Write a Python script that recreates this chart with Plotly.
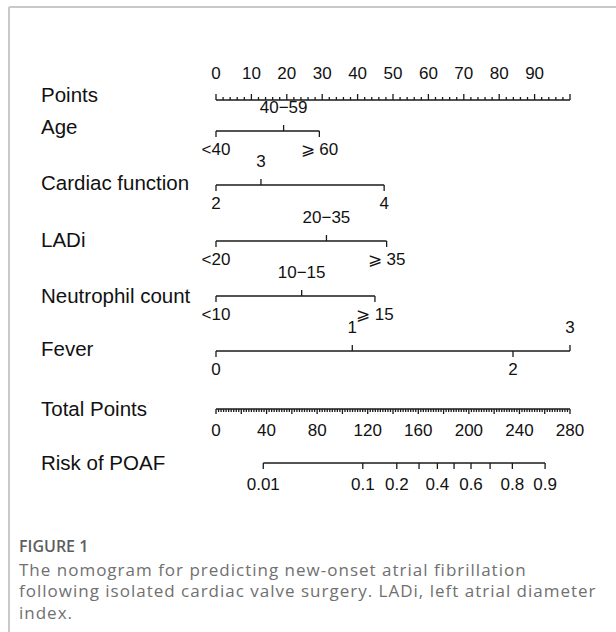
import json
import plotly.graph_objects as go

W, H = 616, 632

# ---------------- data ----------------
points_ticks_major = [0, 10, 20, 30, 40, 50, 60, 70, 80, 90, 100]
points_labels = ["0", "10", "20", "30", "40", "50", "60", "70", "80", "90", ""]

age_levels = ["<40", "40−59", "⩾ 60"]
age_points = [0, 19.1, 29.2]
age_side = ["below", "above", "below"]

cardiac_levels = ["2", "3", "4"]
cardiac_points = [0, 12.7, 47.5]
cardiac_side = ["below", "above", "below"]

ladi_levels = ["<20", "20−35", "⩾ 35"]
ladi_points = [0, 31.2, 48.2]
ladi_side = ["below", "above", "below"]

neut_levels = ["<10", "10−15", "⩾ 15"]
neut_points = [0, 24.2, 44.9]
neut_side = ["below", "above", "below"]

fever_levels = ["0", "1", "2", "3"]
fever_points = [0, 38.5, 83.9, 100]
fever_side = ["below", "above", "below", "above"]

total_ticks_labeled = [0, 40, 80, 120, 160, 200, 240, 280]

risk_values = [0.01, 0.1, 0.2, 0.3, 0.4, 0.5, 0.6, 0.7, 0.8, 0.9]
risk_total_points = [37.4, 116.1, 143.0, 160.6, 175.1, 188.3, 201.7, 216.8, 234.4, 260.3]
risk_labels = ["0.01", "0.1", "0.2", "", "0.4", "", "0.6", "", "0.8", "0.9"]

variables = [
    ("Age", age_levels, age_points, age_side),
    ("Cardiac function", cardiac_levels, cardiac_points, cardiac_side),
    ("LADi", ladi_levels, ladi_points, ladi_side),
    ("Neutrophil count", neut_levels, neut_points, neut_side),
    ("Fever", fever_levels, fever_points, fever_side),
]

caption_lines = ["The nomogram for predicting new-onset atrial fibrillation",
                 "following isolated cardiac valve surgery. LADi, left atrial diameter",
                 "index."]

# ---------------- layout constants ----------------
X0_PX, X100_PX = 216, 570          # pixel positions of 0 and 100 points
PX_PER_PT = (X100_PX - X0_PX) / 100.0
TOTAL_MAX = 280
ROW_Y = {"Points": 100, "Age": 131, "Cardiac function": 185, "LADi": 241,
         "Neutrophil count": 296, "Fever": 351, "Total Points": 409,
         "Risk of POAF": 463}
NAME_Y = {"Points": 94.5, "Age": 126.5, "Cardiac function": 182, "LADi": 239,
          "Neutrophil count": 295, "Fever": 349, "Total Points": 408,
          "Risk of POAF": 462}
LINE_COLOR = "#1a1a1a"
TXT_COLOR = "#111111"
FONT = "Liberation Sans, Arial, sans-serif"
NAME_SIZE = 20.5
TICK_SIZE = 17

fig = go.Figure()

def seg_trace(xs, ys, xaxis="x"):
    fig.add_trace(go.Scatter(x=xs, y=ys, mode="lines", xaxis=xaxis,
                             line=dict(color=LINE_COLOR, width=1.3),
                             hoverinfo="skip", showlegend=False))

def text_trace(xs, ys, texts, xaxis="x", size=TICK_SIZE):
    fig.add_trace(go.Scatter(x=xs, y=ys, mode="text", text=texts, xaxis=xaxis,
                             textposition="middle center",
                             textfont=dict(family=FONT, size=size, color=TXT_COLOR),
                             hoverinfo="skip", showlegend=False))

# Points axis (line at bottom, ticks upward)
yP = ROW_Y["Points"]
xs, ys = [0, 100, None], [yP, yP, None]
for v in range(0, 101, 2):
    L = 6 if v % 10 == 0 else 3
    xs += [v, v, None]
    ys += [yP, yP - L, None]
seg_trace(xs, ys)
text_trace(points_ticks_major, [yP - 25] * len(points_ticks_major), points_labels)

# categorical variables
for name, levels, pts, side in variables:
    y = ROW_Y[name]
    xs, ys = [min(pts), max(pts), None], [y, y, None]
    tx, ty = [], []
    for p, s in zip(pts, side):
        if s == "above":
            xs += [p, p, None]; ys += [y, y - 6, None]
            ty.append(y - 22)
        else:
            xs += [p, p, None]; ys += [y, y + 6, None]
            ty.append(y + 20)
        tx.append(p)
    seg_trace(xs, ys)
    text_trace(tx, ty, levels)

# Total points axis (line at top, ticks downward) on xaxis2
yT = ROW_Y["Total Points"]
xs, ys = [0, TOTAL_MAX, None], [yT, yT, None]
for v in range(0, TOTAL_MAX + 1, 2):
    L = 5 if v % 20 == 0 else 3
    xs += [v, v, None]
    ys += [yT, yT + L, None]
seg_trace(xs, ys, xaxis="x2")
text_trace(total_ticks_labeled, [yT + 23] * len(total_ticks_labeled),
           [str(v) for v in total_ticks_labeled], xaxis="x2")

# Risk axis
yR = ROW_Y["Risk of POAF"]
xs, ys = [min(risk_total_points), max(risk_total_points), None], [yR, yR, None]
for v in risk_total_points:
    xs += [v, v, None]
    ys += [yR, yR + 6, None]
seg_trace(xs, ys, xaxis="x2")
text_trace(risk_total_points, [yR + 23] * len(risk_total_points), risk_labels, xaxis="x2")

# variable names
annotations = []
for name, y in NAME_Y.items():
    annotations.append(dict(x=39 / W, y=1 - y / H, xref="paper", yref="paper",
                            text=name, showarrow=False, xanchor="left", yanchor="middle",
                            align="left",
                            font=dict(family=FONT, size=NAME_SIZE, color=TXT_COLOR)))

# caption
CAP_FONT = "Open Sans, Noto Sans, sans-serif"
annotations.append(dict(x=17 / W, y=1 - 546 / H, xref="paper", yref="paper",
                        text="FIGURE 1", showarrow=False, xanchor="left", yanchor="middle",
                        align="left",
                        font=dict(family=CAP_FONT, size=16, color="#5e5e5e", weight=600)))
for i, line in enumerate(caption_lines):
    annotations.append(dict(x=17 / W, y=1 - (569 + 21.5 * i) / H, xref="paper", yref="paper",
                            text=line, showarrow=False, xanchor="left", yanchor="middle",
                            align="left",
                            font=dict(family=CAP_FONT, size=17, color="#707070")))

# frame
shapes = [
    dict(type="line", xref="paper", yref="paper", x0=9 / W, x1=1, y0=1 - 7 / H, y1=1 - 7 / H,
         line=dict(color="#c9c9c9", width=2)),
    dict(type="line", xref="paper", yref="paper", x0=9 / W, x1=9 / W, y0=0, y1=1 - 7 / H,
         line=dict(color="#c9c9c9", width=2)),
]

xr = [-X0_PX / PX_PER_PT, (W - X0_PX) / PX_PER_PT]
fig.update_layout(
    width=W, height=H, margin=dict(l=0, r=0, t=0, b=0),
    paper_bgcolor="white", plot_bgcolor="white",
    xaxis=dict(range=xr, visible=False, fixedrange=True),
    xaxis2=dict(range=[v * TOTAL_MAX / 100 for v in xr], visible=False,
                overlaying="x", fixedrange=True),
    yaxis=dict(range=[H, 0], visible=False, fixedrange=True),
    annotations=annotations, shapes=shapes, showlegend=False,
)

post = (
    "document.body.style.margin='0';document.body.style.overflow='hidden';"
    "var CAP=" + json.dumps(caption_lines) + ";"
    "document.querySelectorAll('.annotation-text').forEach(function(t){"
    "if(CAP.indexOf(t.textContent)>=0){t.style.letterSpacing='1px';}});"
)
fig.write_html("out.html", config={"displayModeBar": False}, post_script=post)
